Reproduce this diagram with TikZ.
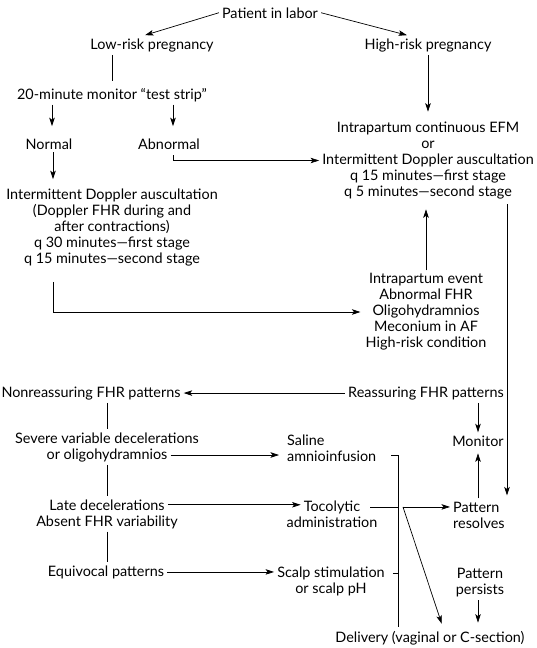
\documentclass[tikz,border=0pt]{standalone}
\usepackage{fontspec}
\setmainfont{Lato}
\usetikzlibrary{arrows.meta}
\tikzset{
    flow-text/.style = {inner sep=3pt, font=\fontsize{14.4}{16}\selectfont, align=center},
    flow-line/.style = {draw, line width=0.7pt},
    flow-arrow/.style = {flow-line, -{Stealth[length=8.5pt, width=5.5pt, inset=2pt]}},
}

\begin{document}
\begin{tikzpicture}[x=1pt, y=-1pt]
\useasboundingbox (0,0) rectangle (536,648);
% admission and risk
\node[flow-text, anchor=base] (patient) at (270,18) {Patient in labor};
\node[flow-text, anchor=base] (low) at (152,49) {Low-risk pregnancy};
\node[flow-text, anchor=base] (high) at (428,49) {High-risk pregnancy};
\node[flow-text, anchor=base] (strip) at (112,99) {20-minute monitor ``test strip''};
\node[flow-text, anchor=base] (normal) at (49,149) {Normal};
\node[flow-text, anchor=base] (abnormal) at (169,149) {Abnormal};
\node[flow-text] (lowdoppler) at (112,228) {Intermittent Doppler auscultation\\(Doppler FHR during and\\after contractions)\\q 30 minutes---first stage\\q 15 minutes---second stage};
\node[flow-text] (highefm) at (428,160.5) {Intrapartum continuous EFM\\or\\Intermittent Doppler auscultation\\q 15 minutes---first stage\\q 5 minutes---second stage};
\node[flow-text] (event) at (426,312) {Intrapartum event\\Abnormal FHR\\Oligohydramnios\\Meconium in AF\\High-risk condition};
% patterns
\node[flow-text, anchor=base] (nonreassuring) at (91,397) {Nonreassuring FHR patterns};
\node[flow-text, anchor=base] (reassuring) at (426,397) {Reassuring FHR patterns};
\node[flow-text, anchor=base] (monitor) at (478,446) {Monitor};
\node[flow-text, anchor=base] (severe) at (107,443) {Severe variable decelerations};
\node[flow-text, anchor=base] (severe-or) at ([yshift=-16pt]severe.base) {or oligohydramnios};
\node[flow-text, anchor=base] (late) at (107,510) {Late decelerations};
\node[flow-text, anchor=base] (late-absent) at ([yshift=-16pt]late.base) {Absent FHR variability};
\node[flow-text, anchor=base] (equivocal) at (106,576) {Equivocal patterns};
% interventions
\node[flow-text, anchor=base west] (saline) at (284,445) {Saline};
\node[flow-text, anchor=base west] (saline-amnio) at ([yshift=-16pt]saline.base west) {amnioinfusion};
\node[flow-text, anchor=base] (tocolytic) at (332,511) {Tocolytic};
\node[flow-text, anchor=base] (tocolytic-admin) at ([yshift=-16pt]tocolytic.base) {administration};
\node[flow-text, anchor=base] (scalp) at (331,577) {Scalp stimulation};
\node[flow-text, anchor=base] (scalp-ph) at ([yshift=-16pt]scalp.base) {or scalp pH};
\node[flow-text, anchor=base west] (resolves) at (450,512) {Pattern};
\node[flow-text, anchor=base west] (resolves-2) at ([yshift=-16pt]resolves.base west) {resolves};
\node[flow-text] (persists) at (480,582.5) {Pattern\\persists};
\node[flow-text, anchor=base] (delivery) at (430,642) {Delivery (vaginal or C-section)};
\coordinate (bus-bottom) at (398,627);

% connectors, top part
\draw[flow-arrow] (patient.west) -- ([xshift=-7pt]low.north);
\draw[flow-arrow] (patient.east) -- ([xshift=-21pt]high.north);
\draw[flow-line, shorten >=4pt] (low.south -| strip.north) -- (strip.north);
\draw[flow-arrow, shorten >=9pt] ([xshift=3pt]normal.north |- strip.south) -- ([xshift=3pt]normal.north);
\draw[flow-arrow, shorten >=9pt] ([xshift=4pt]abnormal.north |- strip.south) -- ([xshift=4pt]abnormal.north);
\draw[flow-arrow, shorten >=7pt] ([xshift=4pt]normal.south) -- ([xshift=4pt]normal.south |- lowdoppler.north);
\draw[flow-arrow] ([xshift=4pt, yshift=-3pt]abnormal.south) |- (highefm.west);
\draw[flow-arrow, shorten >=7pt] (high.south) -- (high.south |- highefm.north);
\draw[flow-arrow, shorten >=2pt] ([xshift=-59pt, yshift=-12pt]lowdoppler.south) |- (event.west);
\draw[flow-arrow, shorten >=7pt] (event.north) -- (event.north |- highefm.south);
\draw[flow-arrow, shorten >=3pt] ([xshift=79pt, yshift=-2pt]highefm.south) -- ([xshift=79pt]highefm.south |- resolves.north);

% connectors, lower part
\draw[flow-arrow] (reassuring.west) -- (nonreassuring.east);
\draw[flow-arrow] (reassuring.south -| monitor.north) -- (monitor.north);
\draw[flow-arrow, shorten >=4pt] (resolves.north -| monitor.south) -- (monitor.south);
\draw[flow-line] (nonreassuring.south -| severe.north) -- (severe.north);
\draw[flow-line] (severe-or.south) -- (severe-or.south |- late.north);
\draw[flow-line] (late-absent.south) -- (late-absent.south |- equivocal.north);
\draw[flow-arrow, shorten >=5pt] (severe-or.east) -- (severe-or.east -| saline-amnio.west);
\draw[flow-arrow] (late.east) -- (late.east -| tocolytic.west);
\draw[flow-arrow] (equivocal.east) -- (equivocal.east -| scalp.west);
\draw[flow-line] ([xshift=12pt]saline-amnio.east) -| (bus-bottom);
\draw[flow-line] ([xshift=7pt]tocolytic.east) -- (tocolytic.east -| bus-bottom);
\draw[flow-line] ([xshift=5pt]scalp.east) -- (scalp.east -| bus-bottom);
\path (tocolytic.east -| bus-bottom) ++(5,0) coordinate (fork);
\draw[flow-arrow] (fork) -- (fork -| resolves.west);
\draw[flow-arrow, shorten >=4pt] (fork) -- ([xshift=13pt]delivery.north);
\draw[flow-arrow, shorten >=5pt] ([xshift=-2pt]persists.south) -- ([xshift=-2pt]persists.south |- delivery.north);
\end{tikzpicture}
\end{document}
